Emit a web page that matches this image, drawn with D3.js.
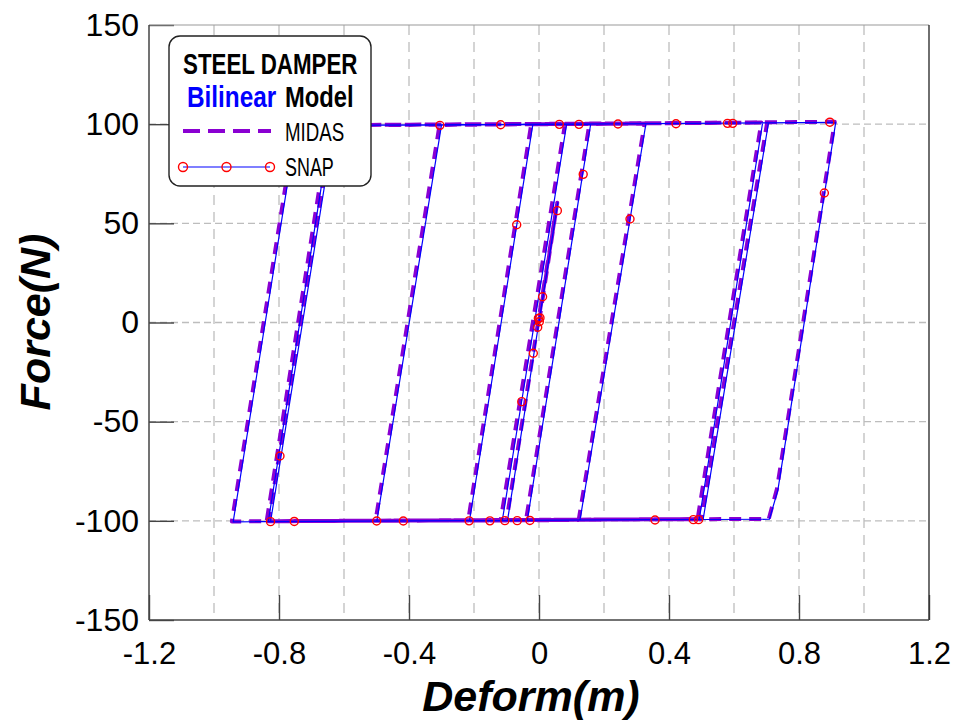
<!DOCTYPE html>
<html><head><meta charset="utf-8">
<script src="https://cdn.jsdelivr.net/npm/d3@7"></script>
<style>
html,body{margin:0;padding:0;background:#fff;}
svg{display:block;}
</style></head>
<body>
<svg id="chart" width="957" height="725"></svg>
<script>
// ---- data ----
const xTickValues = [-1.2, -0.8, -0.4, 0, 0.4, 0.8, 1.2];
const xTickLabels = ["-1.2", "-0.8", "-0.4", "0", "0.4", "0.8", "1.2"];
const yTickValues = [-150, -100, -50, 0, 50, 100, 150];
const yTickLabels = ["-150", "-100", "-50", "0", "50", "100", "150"];

// MIDAS path (deform m, force N)
const midasX = [0, 0.056, -0.100, -0.118, 0.080, 0.155, -0.040, -0.218, -0.024, 0.325, 0.122, -0.503, -0.306, 0.910, 0.732, 0.707, -0.945, -0.750, 0.702, 0.500, -0.838, -0.645, 0.684, 0.488, -0.832, -0.636, -0.300];
const midasF = [0, 60.4, -99.8, -99.8, 100.0, 100.1, -99.7, -99.9, 99.9, 100.3, -99.6, -100.0, 99.6, 101.2, -84.0, -99.0, -100.3, 99.4, 100.8, -99.1, -100.2, 99.5, 100.8, -99.1, -100.2, 99.5, 99.7];

// SNAP path
const snapX = [0, 0.058, -0.097, -0.113, 0.085, 0.159, -0.036, -0.214, -0.019, 0.329, 0.126, -0.499, -0.300, 0.913, 0.735, 0.709, -0.941, -0.745, 0.706, 0.505, -0.833, -0.640, 0.688, 0.493, -0.826, -0.630, -0.300];
const snapF = [0, 60.4, -99.9, -99.9, 99.9, 100.0, -99.8, -100.0, 99.8, 100.2, -99.7, -100.1, 99.5, 100.9, -84.5, -99.2, -100.5, 99.3, 100.6, -99.3, -100.4, 99.4, 100.6, -99.3, -100.4, 99.4, 99.6];

// SNAP sampled markers
const snapMarkX = [-0.305, -0.118, 0.0625, 0.123, 0.243, 0.4215, 0.580, 0.596, 0.895,
  0.136, 0.0565, 0.28, 0.878, 0.011, 0.003, -0.0686, -0.002, 0.001, -0.004, -0.0175, -0.053, -0.797,
  -0.826, -0.753, -0.4995, -0.4175, -0.215, -0.151, -0.105, -0.067, -0.028, 0.357, 0.475, 0.491];
const snapMarkF = [99.4, 99.7, 99.9, 99.9, 100.1, 100.2, 100.4, 100.4, 101.0,
  74.7, 56.4, 52.2, 65.3, 13.0, 2.3, 49.3, 2.1, 0.4, -2.4, -15.5, -39.9, -67.3,
  -100.4, -100.3, -100.1, -100.1, -100.0, -100.0, -99.9, -99.9, -99.8, -99.6, -99.4, -99.4];

// ---- layout ----
const L = 149, R = 929, T = 25, B = 620;
const svg = d3.select("#chart");
const x = d3.scaleLinear().domain([-1.2, 1.2]).range([L, R]);
const y = d3.scaleLinear().domain([-150, 150]).range([B, T]);

const FONT = "'Liberation Sans', Arial, sans-serif";

// grid
const gx = svg.append("g");
gx.selectAll("line").data(x.ticks(12).filter(v => Math.abs(v) < 1.19))
  .join("line")
  .attr("x1", d => x(d)).attr("x2", d => x(d))
  .attr("y1", T).attr("y2", B)
  .attr("stroke", "#bdbdbd").attr("stroke-width", 1.3)
  .attr("stroke-dasharray", "10,7");
const gy = svg.append("g");
gy.selectAll("line").data(yTickValues.filter(v => Math.abs(v) < 149))
  .join("line")
  .attr("x1", L).attr("x2", R)
  .attr("y1", d => y(d)).attr("y2", d => y(d))
  .attr("stroke", "#bdbdbd").attr("stroke-width", 1.3)
  .attr("stroke-dasharray", "7,4");

// axes
const xAxis = svg.append("g").attr("transform", `translate(0,${B})`)
  .call(d3.axisBottom(x).tickValues(xTickValues).tickSize(-25).tickPadding(22)
    .tickFormat((d, i) => xTickLabels[i]));
const yAxis = svg.append("g").attr("transform", `translate(${L},0)`)
  .call(d3.axisLeft(y).tickValues(yTickValues).tickSize(-25).tickPadding(10)
    .tickFormat((d, i) => yTickLabels[i]));
[xAxis, yAxis].forEach(a => {
  a.select(".domain").remove();
  a.selectAll(".tick line").attr("stroke", "#444").attr("stroke-width", 1.4);
  a.selectAll("text").attr("font-family", FONT).attr("fill", "#000");
});
xAxis.selectAll("text").attr("font-size", 31);
yAxis.selectAll("text").attr("font-size", 32);

// frame
svg.append("line").attr("x1", L).attr("x2", R).attr("y1", T).attr("y2", T).attr("stroke", "#999").attr("stroke-width", 1.2);
svg.append("line").attr("x1", R).attr("x2", R).attr("y1", T).attr("y2", B).attr("stroke", "#333").attr("stroke-width", 1.4);
svg.append("line").attr("x1", L).attr("x2", R).attr("y1", B).attr("y2", B).attr("stroke", "#444").attr("stroke-width", 1.5);
svg.append("line").attr("x1", L).attr("x2", L).attr("y1", T).attr("y2", B).attr("stroke", "#444").attr("stroke-width", 1.5);

// series
const line = d3.line().x(d => x(d[0])).y(d => y(d[1]));
const midas = midasX.map((v, i) => [v, midasF[i]]);
const snap = snapX.map((v, i) => [v, snapF[i]]);
const marks = snapMarkX.map((v, i) => [v, snapMarkF[i]]);

svg.append("clipPath").attr("id", "clip").append("rect")
  .attr("x", L).attr("y", T).attr("width", R - L).attr("height", B - T);
const plot = svg.append("g").attr("clip-path", "url(#clip)");

const MIDAS_COLOR = "#8a00d2", SNAP_COLOR = "#0000ff", MARK_COLOR = "#ff0000";
plot.append("path").datum(midas).attr("d", line)
  .attr("fill", "none").attr("stroke", MIDAS_COLOR).attr("stroke-width", 4)
  .attr("stroke-dasharray", "12,8").attr("stroke-linejoin", "round");
plot.append("path").datum(snap).attr("d", line)
  .attr("fill", "none").attr("stroke", SNAP_COLOR).attr("stroke-width", 1.2)
  .attr("stroke-linejoin", "round");
plot.selectAll("circle.m").data(marks).join("circle").attr("class", "m")
  .attr("cx", d => x(d[0])).attr("cy", d => y(d[1])).attr("r", 4)
  .attr("fill", "none").attr("stroke", MARK_COLOR).attr("stroke-width", 1.4);

// axis titles
svg.append("text").attr("x", 531).attr("y", 711).attr("text-anchor", "middle")
  .attr("font-family", FONT).attr("font-size", 43).attr("font-weight", "bold").attr("font-style", "italic")
  .text("Deform(m)");
svg.append("text").attr("transform", "translate(50,322) rotate(-90)").attr("text-anchor", "middle")
  .attr("font-family", FONT).attr("font-size", 43).attr("font-weight", "bold").attr("font-style", "italic")
  .text("Force(N)");

// legend (condensed text via horizontal scale)
const lg = svg.append("g");
lg.append("rect").attr("x", 169).attr("y", 36).attr("width", 202).attr("height", 150).attr("rx", 11)
  .attr("fill", "#fff").attr("stroke", "#222").attr("stroke-width", 1.4);
function ltext(px, py, sx, size, weight, color, str) {
  lg.append("text").attr("transform", `translate(${px},${py}) scale(${sx},1)`)
    .attr("font-family", FONT).attr("font-size", size).attr("font-weight", weight)
    .attr("fill", color).text(str);
}
ltext(183, 74, 0.77, 29, "bold", "#000", "STEEL DAMPER");
ltext(187, 107, 0.84, 29, "bold", "#0000ff", "Bilinear");
ltext(285, 107, 0.82, 29, "bold", "#000", "Model");
lg.append("line").attr("x1", 183).attr("x2", 271).attr("y1", 131).attr("y2", 131)
  .attr("stroke", MIDAS_COLOR).attr("stroke-width", 4).attr("stroke-dasharray", "17,8");
ltext(285, 141, 0.72, 26, "normal", "#000", "MIDAS");
lg.append("line").attr("x1", 183).attr("x2", 270).attr("y1", 167).attr("y2", 167)
  .attr("stroke", SNAP_COLOR).attr("stroke-width", 1.2);
lg.selectAll("circle.lm").data([183, 226.5, 270]).join("circle").attr("class", "lm")
  .attr("cx", d => d).attr("cy", 167).attr("r", 4.5)
  .attr("fill", "none").attr("stroke", MARK_COLOR).attr("stroke-width", 1.4);
ltext(285, 176, 0.69, 26, "normal", "#000", "SNAP");
</script>
</body></html>
